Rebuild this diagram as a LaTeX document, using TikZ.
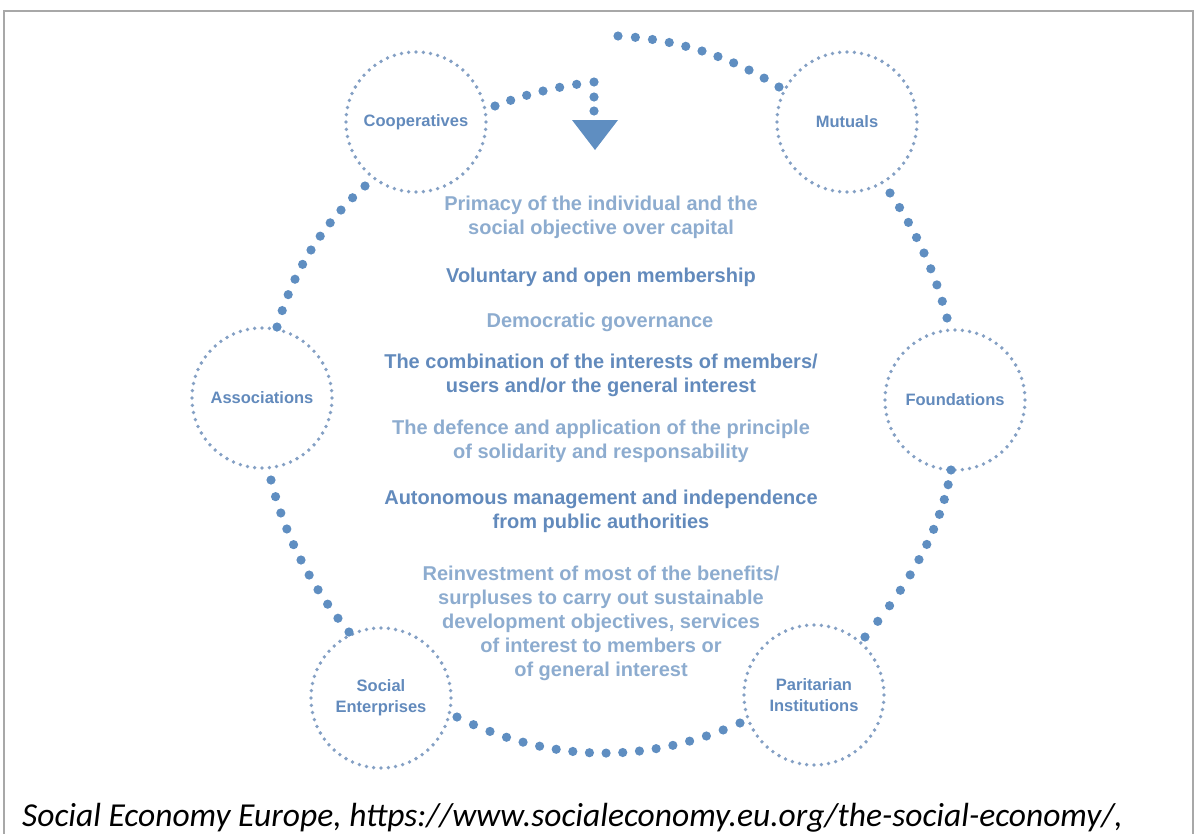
\documentclass[tikz,border=0pt]{standalone}
\usepackage{fontspec}
\setmainfont{Liberation Sans}
\newfontfamily\capfont{Carlito}
\usetikzlibrary{calc}
\definecolor{dotblue}{RGB}{95,142,193}
\definecolor{ringblue}{RGB}{132,160,196}
\definecolor{darktext}{RGB}{98,138,188}
\definecolor{lighttext}{RGB}{141,172,207}
\definecolor{framegray}{RGB}{168,168,168}
\tikzset{
  org/.style={circle, minimum size=140pt, inner sep=0pt, draw=ringblue, line width=3.8pt,
    dash pattern=on 0pt off 7.3304pt, line cap=round,
    font=\bfseries\fontsize{16.5}{21}\selectfont, text=darktext, align=center},
  lighttxt/.style={font=\bfseries\fontsize{20}{24}\selectfont, text=lighttext, align=center},
  darktxt/.style={font=\bfseries\fontsize{20}{24}\selectfont, text=darktext, align=center},
  captxt/.style={font=\capfont\itshape\fontsize{33.5}{40}\selectfont, text=black, anchor=base west, inner sep=0pt},
}
\newcommand{\dotcurve}[4]{%
  \foreach \i in {0,...,#4}{%
    \pgfmathsetmacro{\tpos}{\i/#4}%
    \path (#1) .. controls ($(#1)!0.6667!(#2)$) and ($(#3)!0.6667!(#2)$) .. (#3) coordinate[pos=\tpos] (dp);
    \fill[dotblue] (dp) circle[radius=4.6pt];
  }}
\begin{document}
\begin{tikzpicture}[x=1pt,y=-1pt]
\useasboundingbox (0,0) rectangle (1199,833);
% frame
\draw[framegray, line width=2.5pt] (4,840) -- (4,11) -- (1193,11) -- (1193,840);

% organisation circles
\node[org] (coop) at (416,122) {Cooperatives};
\node[org] (mut) at (847,122) {Mutuals};
\node[org] (assoc) at (262,398) {Associations};
\node[org] (found) at (955,400) {Foundations};
\node[org] (social) at (381,698) {Social\\Enterprises};
\node[org] (parit) at (814,695) {Paritarian\\Institutions};

% connector anchor points
\coordinate (s1a) at (365,186); \coordinate (s1c) at (301,243.5); \coordinate (s1b) at (277,327);
\coordinate (s2a) at (890,193); \coordinate (s2c) at (929.5,250.5); \coordinate (s2b) at (947,318);
\coordinate (s3a) at (271,480); \coordinate (s3c) at (292,564); \coordinate (s3b) at (349,632);
\coordinate (s4a) at (951,470); \coordinate (s4c) at (938,550.5); \coordinate (s4b) at (865,637);
\coordinate (s5a) at (457,717); \coordinate (s5c) at (597,786); \coordinate (s5b) at (740,723);
\coordinate (s6a) at (495,106); \coordinate (s6c) at (541.5,88); \coordinate (s6b) at (594,82);
\coordinate (s6d) at (594,97); \coordinate (s6e) at (594,111);
\coordinate (s7a) at (618,36); \coordinate (s7c) at (705.5,40.5); \coordinate (s7b) at (779,87);

\dotcurve{s1a}{s1c}{s1b}{10}
\dotcurve{s2a}{s2c}{s2b}{8}
\dotcurve{s3a}{s3c}{s3b}{10}
\dotcurve{s4a}{s4c}{s4b}{11}
\dotcurve{s5a}{s5c}{s5b}{17}
\dotcurve{s6a}{s6c}{s6b}{6}
\fill[dotblue] (s6d) circle[radius=4.6pt] (s6e) circle[radius=4.6pt];
\dotcurve{s7a}{s7c}{s7b}{10}

% arrow head
\coordinate (tl) at (572,120); \coordinate (tr) at (618,120); \coordinate (tb) at (595,150);
\fill[dotblue] (tl) -- (tr) -- (tb) -- cycle;

% principles
\node[lighttxt] (p1) at (601,217) {Primacy of the individual and the\\social objective over capital};
\node[darktxt] (p2) at (601,277) {Voluntary and open membership};
\node[lighttxt] (p3) at (600,322) {Democratic governance};
\node[darktxt] (p4) at (601,375) {The combination of the interests of members/\\users and/or the general interest};
\node[lighttxt] (p5) at (601,441) {The defence and application of the principle\\of solidarity and responsability};
\node[darktxt] (p6) at (601,511) {Autonomous management and independence\\from public authorities};
\node[lighttxt] (p7) at (601,623) {Reinvestment of most of the benefits/\\surpluses to carry out sustainable\\development objectives, services\\of interest to members or\\of general interest};

% caption
\node[captxt] (cap) at (22,826) {Social Economy Europe, https://www.socialeconomy.eu.org/the-social-economy/,};
\end{tikzpicture}
\end{document}
